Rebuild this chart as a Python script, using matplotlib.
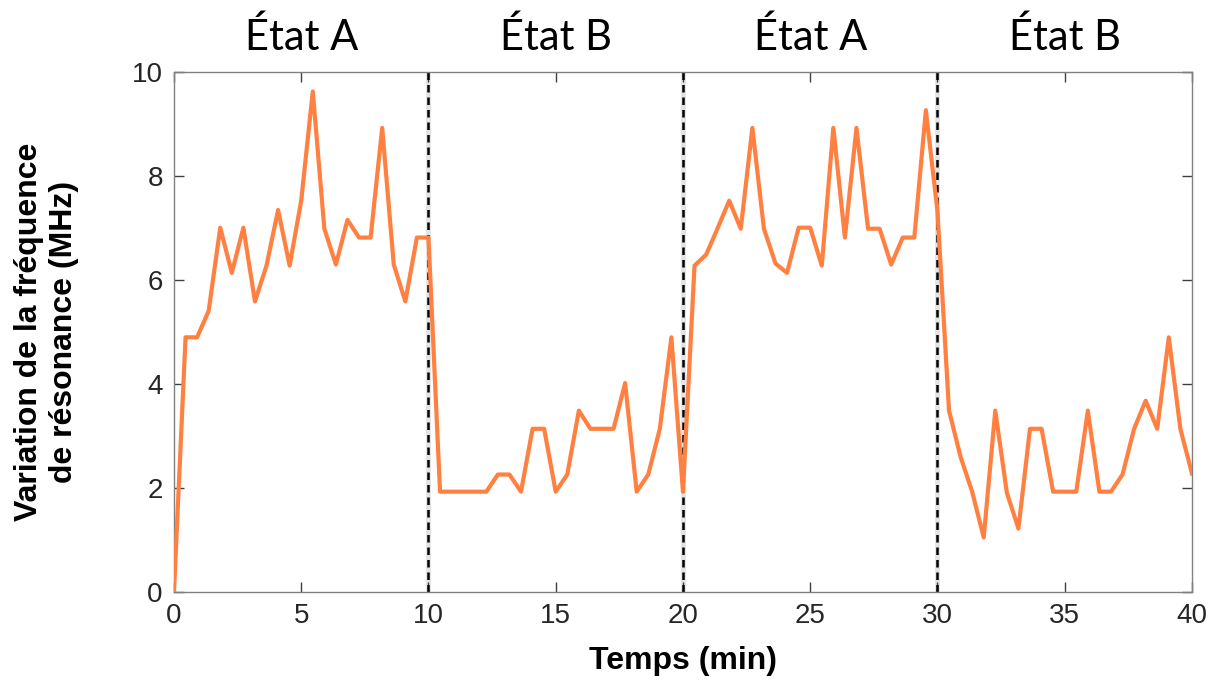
import numpy as np
import matplotlib
matplotlib.use("Agg")
import matplotlib.pyplot as plt

# sampling interval (min) and measured frequency shift (MHz)
step = 10 / 22
etat_a1 = [0.0, 4.90, 4.90, 5.41, 7.01, 6.14, 7.01, 5.59, 6.28, 7.35, 6.28, 7.53,
           9.63, 6.99, 6.30, 7.16, 6.82, 6.82, 8.93, 6.30, 5.59, 6.82, 6.82]
etat_b1 = [1.93, 1.93, 1.93, 1.93, 1.93, 2.26, 2.26, 1.93, 3.14, 3.14, 1.93,
           2.26, 3.49, 3.14, 3.14, 3.14, 4.02, 1.93, 2.26, 3.14, 4.90, 1.93]
etat_a2 = [6.28, 6.49, 7.00, 7.53, 6.99, 8.93, 6.99, 6.32, 6.14, 7.01, 7.01,
           6.28, 8.93, 6.82, 8.93, 6.99, 6.99, 6.30, 6.82, 6.82, 9.27, 7.33]
etat_b2 = [3.49, 2.60, 1.93, 1.05, 3.49, 1.91, 1.22, 3.14, 3.14, 1.93, 1.93,
           1.93, 3.49, 1.93, 1.93, 2.26, 3.14, 3.68, 3.14, 4.90, 3.14, 2.28]

values = etat_a1 + etat_b1 + etat_a2 + etat_b2
times = np.arange(len(values)) * step

boundaries = [10, 20, 30]
state_labels = ["État A", "État B", "État A", "État B"]
state_centers = [5, 15, 25, 35]

fig = plt.figure(figsize=(12.2, 6.82), dpi=100)
ax = fig.add_axes([0.1426, 0.132, 0.8344, 0.762])

for b in boundaries:
    ax.axvline(b, color="#e4e4e4", lw=3.5, zorder=1)
    ax.axvline(b, color="black", lw=1.8, ls=(0, (3, 2)), zorder=2)

ax.plot(times, values, color="#FF8040", lw=3, zorder=3)

ax.set_xlim(0, 40)
ax.set_ylim(0, 10)
ax.set_xticks([0, 5, 10, 15, 20, 25, 30, 35, 40])
ax.set_yticks([0, 2, 4, 6, 8, 10])
ax.tick_params(direction="in", top=True, right=True, length=7, width=1,
               color="#404040", labelsize=20, labelcolor="#262626", pad=8)
for s in ax.spines.values():
    s.set_color("#808080")
    s.set_linewidth(1)

ax.set_xlabel("Temps (min)", fontsize=23, fontweight="bold",
              family="Liberation Sans", labelpad=12)
ax.set_ylabel("Variation de la fréquence\nde résonance (MHz)", fontsize=23,
              fontweight="bold", family="Liberation Sans", labelpad=38)
for lbl in ax.get_xticklabels() + ax.get_yticklabels():
    lbl.set_family("Liberation Sans")

for lab, xc in zip(state_labels, state_centers):
    ax.text(xc, 1.068, lab, transform=ax.get_xaxis_transform(), ha="center",
            va="center", fontsize=30, family="Lato", color="black")

fig.savefig("out.png", dpi=100)
